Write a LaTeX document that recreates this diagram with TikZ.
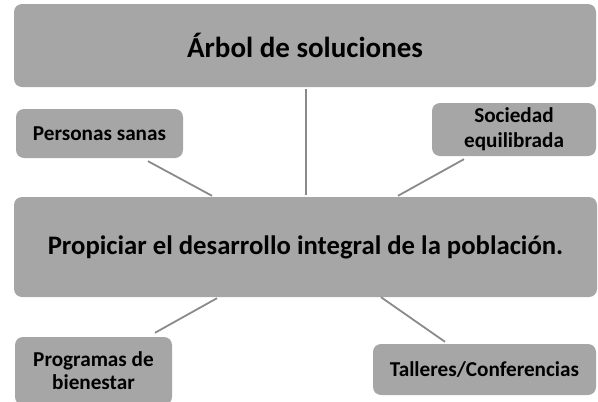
\documentclass[tikz,border=0pt]{standalone}
\usepackage{fontspec}
\setmainfont{Carlito}
\usetikzlibrary{calc}

\definecolor{grisCaja}{HTML}{A6A6A6}
\definecolor{grisLinea}{HTML}{8A8A8A}

\begin{document}
\begin{tikzpicture}[
    x=1pt, y=-1pt,
    % Estilo de las cajas (fondo gris, esquinas redondeadas)
    caja/.style={rectangle, rounded corners=8pt, fill=grisCaja, draw=none, text=black, align=center, inner sep=0pt},
    textoGrande/.style={font=\bfseries\fontsize{29}{34}\selectfont},
    textoMedio/.style={font=\bfseries\fontsize{26.7}{30}\selectfont},
    textoChico/.style={font=\bfseries\fontsize{21.2}{23}\selectfont},
    % Estilo de los conectores
    conector/.style={draw=grisLinea, line width=1.8pt}
]
    \useasboundingbox (0,0) rectangle (598,402);
    \clip (0,0) rectangle (598,402);

    % --- CAJAS PRINCIPALES ---
    \node[caja, textoGrande, minimum width=582pt, minimum height=83pt] (arbol) at (305,45.5) {Árbol de soluciones};
    \node[caja, textoMedio, minimum width=583pt, minimum height=100pt] (propiciar) at (305.5,247) {Propiciar el desarrollo integral de la población.};

    % --- CAJAS SUPERIORES (fines) ---
    \node[caja, textoChico, minimum width=167pt, minimum height=49pt] (personas) at (99.5,133.5) {Personas sanas};
    \node[caja, textoChico, minimum width=164pt, minimum height=53pt] (sociedad) at (514,129.5) {Sociedad\\[2pt]equilibrada};

    % --- CAJAS INFERIORES (medios) ---
    \node[caja, textoChico, minimum width=157pt, minimum height=68pt] (programas) at (93.5,371) {Programas de\\bienestar};
    \node[caja, textoChico, minimum width=223pt, minimum height=51pt] (talleres) at (484.5,369.5) {Talleres/Conferencias};

    % --- CONECTORES ---
    \draw[conector] ($(arbol.south)+(1,2)$) -- ($(propiciar.north)+(0.5,-2)$);
    \draw[conector] ($(personas.south)+(48.5,3)$) -- ($(propiciar.north)+(-93.5,-1)$);
    \draw[conector] ($(sociedad.south)+(-50,3)$) -- ($(propiciar.north)+(92.5,-1)$);
    \draw[conector] ($(propiciar.south)+(-88.5,1)$) -- ($(programas.north)+(61.5,-4)$);
    \draw[conector] ($(propiciar.south)+(75.5,0)$) -- ($(talleres.north)+(-39.5,-2)$);

\end{tikzpicture}
\end{document}
